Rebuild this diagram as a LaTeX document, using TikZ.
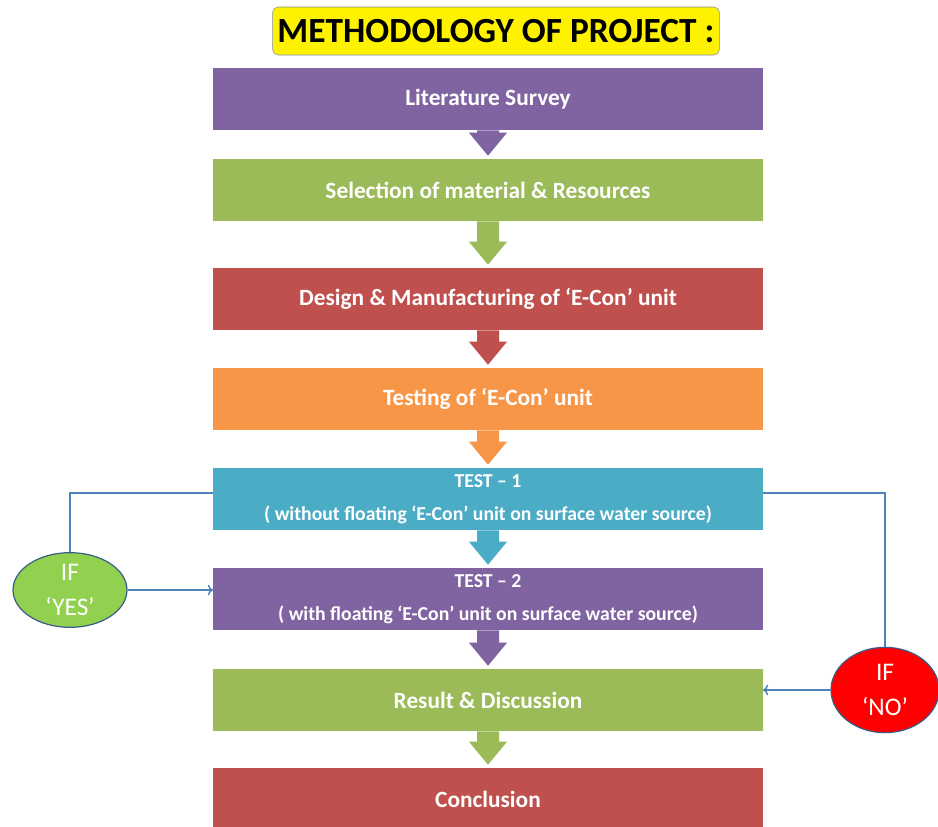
\documentclass[tikz,border=0pt]{standalone}
\usepackage{fontspec}
\setmainfont{Carlito}
\usetikzlibrary{shapes.geometric,calc,arrows.meta}
\definecolor{stagepurple}{HTML}{8064A2}
\definecolor{stagegreen}{HTML}{9BBB59}
\definecolor{stagered}{HTML}{C0504D}
\definecolor{stageorange}{HTML}{F79646}
\definecolor{stageblue}{HTML}{4BACC6}
\definecolor{linkblue}{HTML}{4F81BD}
\definecolor{yesgreen}{HTML}{92D050}
\definecolor{nored}{HTML}{FF0000}
\definecolor{choiceedge}{HTML}{385D8A}
\definecolor{titleedge}{HTML}{7F8C9C}
\tikzset{
  stage/.style={rectangle, minimum width=412pt, minimum height=46.5pt, inner sep=0pt, text=white, align=center, font=\fontsize{17.5}{20}\selectfont\bfseries},
  teststage/.style={stage, font=\fontsize{14.8}{25}\selectfont\bfseries},
  choice/.style={ellipse, draw=choiceedge, line width=0.9pt, inner sep=0pt, text=white, align=center, font=\fontsize{19}{26}\selectfont}
}
% block arrow from the bottom of one stage to the top of the next
\newcommand{\flowarrow}[3]{%
  \fill[#3] ($(#1.south)+(-11,0)$) -- ($(#2.north)+(-11,26)$) -- ($(#2.north)+(-19,26)$)
    -- ($(#2.north)+(0,3)$) -- ($(#2.north)+(19,26)$) -- ($(#2.north)+(11,26)$)
    -- ($(#1.south)+(11,0)$) -- cycle;}
\begin{document}
\begin{tikzpicture}[x=0.75pt,y=0.75pt]
\useasboundingbox (0,0) rectangle (938,-827);
\node (title) [rectangle, rounded corners=4pt, fill=yellow, draw=titleedge, minimum width=335pt, minimum height=36pt, inner sep=0pt, font=\fontsize{26.5}{28}\selectfont\bfseries] at (496,-31) {METHODOLOGY OF PROJECT :};
\node (lit) [stage, fill=stagepurple] at (488,-99) {Literature Survey};
\node (sel) [stage, fill=stagegreen, below of=lit, node distance=68.25pt] {Selection of material \& Resources};
\node (des) [stage, fill=stagered, below of=sel, node distance=81.75pt] {Design \& Manufacturing of ‘E-Con’ unit};
\node (tst) [stage, fill=stageorange, below of=des, node distance=75pt] {Testing of ‘E-Con’ unit};
\node (one) [teststage, fill=stageblue, below of=tst, node distance=75pt] {TEST – 1\\( without floating ‘E-Con’ unit on surface water source)};
\node (two) [teststage, fill=stagepurple, below of=one, node distance=75pt] {TEST – 2\\( with floating ‘E-Con’ unit on surface water source)};
\node (res) [stage, fill=stagegreen, below of=two, node distance=75.75pt] {Result \& Discussion};
\node (con) [stage, fill=stagered, below of=res, node distance=74.25pt] {Conclusion};
\node (yes) [choice, fill=yesgreen, minimum width=85.5pt, minimum height=56pt] at (70,-590) {IF\\‘YES’};
\node (no) [choice, fill=nored, minimum width=81pt, minimum height=64pt] at (885,-690) {IF\\‘NO’};
\flowarrow{lit}{sel}{stagepurple}
\flowarrow{sel}{des}{stagegreen}
\flowarrow{des}{tst}{stagered}
\flowarrow{tst}{one}{stageorange}
\flowarrow{one}{two}{stageblue}
\flowarrow{two}{res}{stagepurple}
\flowarrow{res}{con}{stagegreen}
\tikzstyle{link} = [line width=1.1pt, draw=linkblue]
\tikzstyle{arrow} = [link,-{To[length=4pt,width=8pt]}]
\draw [link] ([yshift=4.5pt]one.west) -| (yes.north);
\draw [link] ([yshift=4.5pt]one.east) -| (no.north);
\draw [arrow] (yes.east) -- (yes.east -| two.west);
\draw [arrow] (no.west) -- (no.west -| res.east);
\end{tikzpicture}
\end{document}
